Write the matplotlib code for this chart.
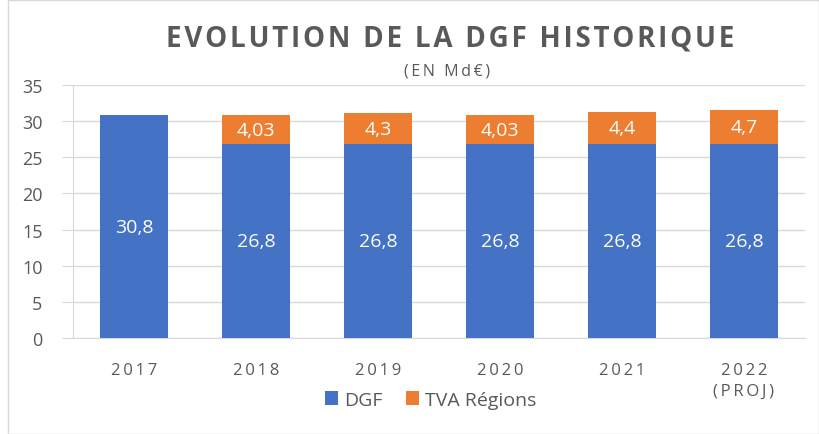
"""
Evolution de la DGF historique - stacked bar chart.
"""
import matplotlib
matplotlib.use('Agg')
import matplotlib.pyplot as plt
from matplotlib.patches import Rectangle
import numpy as np

plt.rcParams['font.family'] = ['Open Sans', 'DejaVu Sans']

years = ['2017', '2018', '2019', '2020', '2021', '2022\n(PROJ)']
dgf = [30.8, 26.8, 26.8, 26.8, 26.8, 26.8]
tva = [0, 4.03, 4.3, 4.03, 4.4, 4.7]
tva_labels = ['', '4,03', '4,3', '4,03', '4,4', '4,7']
dgf_labels = ['30,8', '26,8', '26,8', '26,8', '26,8', '26,8']
y_ticks = [0, 5, 10, 15, 20, 25, 30, 35]

BLUE = '#4472C4'
ORANGE = '#ED7D31'
GREY_TXT = '#595959'
GRID = '#D9D9D9'


def spaced(s, sep='\u2009'):
    # Excel-like letter spacing
    return '\n'.join(sep.join(line) for line in s.split('\n'))


fig = plt.figure(figsize=(8.2, 4.35), dpi=100)
ax = fig.add_axes([73 / 820, 1 - 339 / 435, (805 - 73) / 820, (339 - 86) / 435])

x = np.arange(len(years))
ax.bar(x, dgf, width=0.56, color=BLUE, zorder=3, label='DGF')
ax.bar(x, tva, width=0.56, bottom=dgf, color=ORANGE, zorder=3, label='TVA Régions')

# Data labels
for i in range(len(years)):
    ax.text(x[i], dgf[i] / 2, dgf_labels[i], ha='center', va='center',
            color='white', fontsize=14, zorder=4)
    if tva[i] > 0:
        ax.text(x[i], dgf[i] + tva[i] / 2, tva_labels[i], ha='center', va='center',
                color='white', fontsize=14, zorder=4)

ax.set_xlim(-0.5, len(years) - 0.5)
ax.set_ylim(0, 35)
ax.set_yticks(y_ticks)
ax.set_yticklabels([str(v) for v in y_ticks], fontsize=13, color=GREY_TXT)
ax.set_xticks(x)
ax.set_xticklabels([spaced(y) for y in years], fontsize=12, color=GREY_TXT,
                   linespacing=1.45)

ax.grid(axis='y', color=GRID, linewidth=1, zorder=0)
ax.tick_params(axis='y', length=8, color=GRID, pad=14)
ax.tick_params(axis='x', length=0, pad=17)
for side in ['top', 'right']:
    ax.spines[side].set_visible(False)
ax.spines['left'].set_color(GRID)
ax.spines['bottom'].set_color(GRID)

# Titles
fig.text(0.549, 1 - 39 / 435, spaced('EVOLUTION DE LA DGF HISTORIQUE', '\u200a'),
         ha='center', va='center', fontsize=20, fontweight='bold', color=GREY_TXT)
fig.text(0.545, 1 - 72 / 435, spaced('(EN Md€)'), ha='center', va='center',
         fontsize=11.5, color=GREY_TXT)

# Legend
fig.legend(loc='center', bbox_to_anchor=(0.525, 1 - 401 / 435), ncol=2, frameon=False,
           fontsize=14, handlelength=0.7, handleheight=0.7, handletextpad=0.3,
           columnspacing=1.2, labelcolor=GREY_TXT)

# Chart frame
fig.patches.append(Rectangle((8 / 820, 0.0), 1 - 9 / 820, 1 - 1 / 435,
                             transform=fig.transFigure, fill=False,
                             edgecolor=GRID, linewidth=1))

fig.savefig('out.png', dpi=100)
